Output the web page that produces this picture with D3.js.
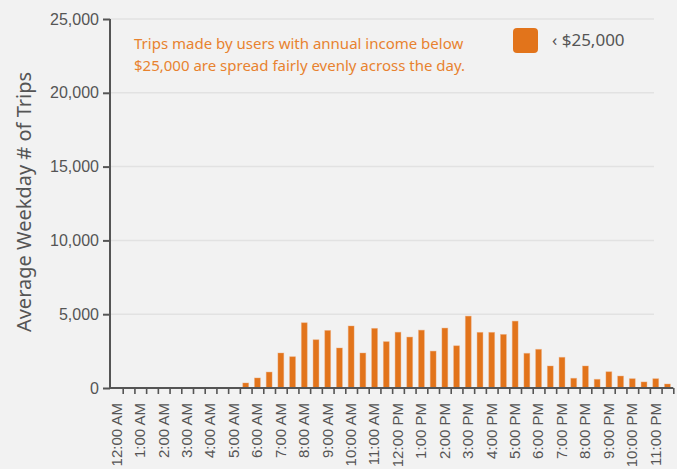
<!DOCTYPE html>
<meta charset="utf-8">
<style>
  body { margin: 0; background: #f2f2f2; }
  svg { display: block; font-family: 'Noto Sans', sans-serif; }
  .grid line { stroke: #e2e2e2; stroke-width: 1.5px; }
  .axis path, .axis line { stroke: #555; stroke-width: 2px; }
  .axis text { fill: #555; }
  .note { fill: #e8822f; font-size: 15px; }
</style>
<script src="https://d3js.org/d3.v7.min.js"></script>
<svg width="677" height="469"></svg>
<script>
// half-hour slots, 12:00 AM .. 11:00 PM
var hours = ["12:00 AM","1:00 AM","2:00 AM","3:00 AM","4:00 AM","5:00 AM","6:00 AM","7:00 AM",
  "8:00 AM","9:00 AM","10:00 AM","11:00 AM","12:00 PM","1:00 PM","2:00 PM","3:00 PM","4:00 PM",
  "5:00 PM","6:00 PM","7:00 PM","8:00 PM","9:00 PM","10:00 PM","11:00 PM"];
var trips = [0,0,0,0,0,0,0,0,0,0,
  340,680,1080,2370,2120,4420,3270,3900,2710,4200,2370,4040,3140,3780,
  3450,3920,2500,4060,2860,4870,3770,3770,3630,4530,2350,2620,1490,2080,
  660,1490,590,1100,810,630,410,630,270];
var yTicks = [0,5000,10000,15000,20000,25000];

var svg = d3.select("svg");
var x = d3.scaleLinear().domain([0, 47]).range([122.7, 673.3]);
var y = d3.scaleLinear().domain([0, 25000]).range([388, 19]);
var slot = x(1) - x(0);

// gridlines
svg.append("g").attr("class", "grid")
  .selectAll("line").data(yTicks.slice(1)).enter().append("line")
  .attr("x1", 110).attr("x2", 654)
  .attr("y1", function(d) { return y(d); }).attr("y2", function(d) { return y(d); });

// bars
svg.append("g").selectAll("rect").data(trips).enter().append("rect")
  .attr("x", function(d, i) { return x(i) + slot * 0.25; })
  .attr("width", slot * 0.5)
  .attr("y", function(d) { return y(d); })
  .attr("height", function(d) { return 388 - y(d); })
  .attr("fill", "#e2741b")
  .attr("stroke", "rgba(240,170,120,0.5)")
  .attr("stroke-width", 0.8);

// y axis
var ya = svg.append("g").attr("class", "axis").attr("transform", "translate(110,0)")
  .call(d3.axisLeft(y).tickValues(yTicks).tickSize(7).tickPadding(4).tickFormat(d3.format(",")));
ya.select(".domain").attr("d", "M0,19V388");
ya.selectAll("text").style("font-size", "16px");

// x axis
var xa = svg.append("g").attr("class", "axis").attr("transform", "translate(0,388)")
  .call(d3.axisBottom(x).tickValues(d3.range(48)).tickSize(6).tickFormat(function(d) {
    return d % 2 === 0 ? hours[d / 2] : "";
  }));
xa.select(".domain").attr("d", "M109,0H673.3");
xa.selectAll("line").style("stroke-width", "1.6px");
xa.selectAll("text")
  .style("font-size", "15px")
  .style("text-anchor", "end")
  .attr("transform", "rotate(-90)")
  .attr("x", -15).attr("y", 0).attr("dy", "-0.1em");

// y label
svg.append("text")
  .attr("transform", "translate(31,202) rotate(-90)")
  .attr("text-anchor", "middle")
  .style("font-size", "20px").attr("fill", "#555")
  .text("Average Weekday # of Trips");

// annotation
svg.append("text").attr("class", "note").attr("x", 134).attr("y", 49)
  .text("Trips made by users with annual income below");
svg.append("text").attr("class", "note").attr("x", 134).attr("y", 71)
  .text("$25,000 are spread fairly evenly across the day.");

// legend
svg.append("rect").attr("x", 513).attr("y", 28).attr("width", 25).attr("height", 25)
  .attr("rx", 4).attr("fill", "#e2741b");
svg.append("text").attr("x", 552).attr("y", 46).attr("fill", "#555")
  .style("font-size", "17px").text("‹ $25,000");
</script>
